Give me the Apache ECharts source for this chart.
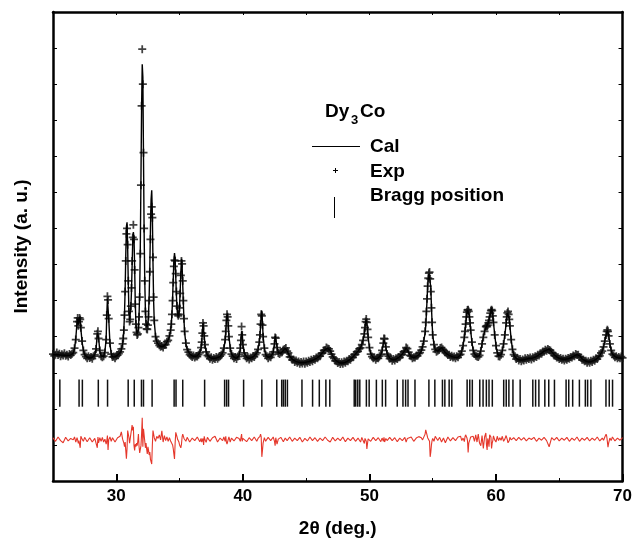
<!DOCTYPE html>
<html><head><meta charset="utf-8">
<script src="https://cdn.jsdelivr.net/npm/echarts@6/dist/echarts.min.js"></script>
<style>html,body{margin:0;padding:0;background:#fff}#c{width:635px;height:543px}</style>
</head><body><div id="c"></div>
<script>
// Experimental scan: 2θ positions (deg.)
const expTheta = [
 25.0,25.1,25.2,25.3,25.4,25.5,25.6,25.7,25.8,25.9,26.0,26.1,26.2,26.3,26.4,26.5,
 26.6,26.7,26.8,26.9,26.95,27.0,27.05,27.1,27.15,27.2,27.3,27.4,27.5,
 27.6,27.7,27.8,27.9,28.0,28.1,28.2,28.3,
 28.4,28.5,28.55,28.6,28.7,28.8,28.9,29.0,29.1,29.2,29.25,29.3,29.35,29.4,29.5,29.6,29.7,
 29.8,29.9,30.0,30.1,30.2,30.3,30.4,
 30.5,30.55,30.6,30.65,30.7,30.75,30.8,30.85,30.9,30.95,31.0,31.05,31.1,31.15,31.2,31.25,31.3,31.35,31.4,31.45,31.5,31.55,31.6,31.65,31.7,31.75,31.8,31.85,31.9,31.95,32.0,32.05,32.1,32.15,32.2,32.25,32.3,32.35,32.4,32.45,32.5,32.55,32.6,32.65,32.7,32.75,32.8,32.85,32.9,32.95,33.0,
 33.1,33.2,33.3,33.4,33.5,33.6,33.7,33.8,33.9,34.0,34.1,34.2,
 34.3,34.35,34.4,34.45,34.5,34.55,34.6,34.65,34.7,34.75,34.8,34.85,34.9,34.95,35.0,35.05,35.1,35.15,35.2,35.25,35.3,35.35,35.4,
 35.5,35.6,35.7,35.8,35.9,36.0,36.1,36.2,36.3,36.4,36.5,36.6,
 36.7,36.75,36.8,36.85,36.9,36.95,37.0,37.1,37.2,
 37.3,37.4,37.5,37.6,37.7,37.8,37.9,38.0,38.1,38.2,38.3,38.4,
 38.5,38.6,38.65,38.7,38.75,38.8,38.85,38.9,39.0,39.1,
 39.2,39.3,39.4,39.5,39.6,39.7,
 39.8,39.85,39.9,39.95,40.0,40.1,
 40.2,40.3,40.4,40.5,40.6,40.7,40.8,40.9,41.0,41.1,
 41.2,41.3,41.35,41.4,41.45,41.5,41.55,41.6,41.7,41.8,
 41.9,42.0,42.1,42.2,42.3,42.4,
 42.5,42.55,42.6,42.7,42.8,
 42.9,43.0,43.1,43.2,43.3,43.4,43.5,43.6,43.7,43.8,43.9,44.0,44.1,44.2,44.3,44.4,44.5,44.6,44.7,44.8,44.9,45.0,45.1,45.2,45.3,45.4,45.5,45.6,45.7,45.8,45.9,46.0,46.1,46.2,46.3,46.4,46.5,46.6,46.7,46.8,46.9,47.0,47.1,47.2,47.3,47.4,47.5,47.6,47.7,47.8,47.9,48.0,48.1,48.2,48.3,48.4,48.5,48.6,48.7,48.8,48.9,49.0,49.1,49.2,49.3,
 49.4,49.5,49.6,49.65,49.7,49.75,49.8,49.85,49.9,50.0,50.1,
 50.2,50.3,50.4,50.5,50.6,50.7,50.8,50.9,
 51.0,51.1,51.15,51.2,51.3,51.4,
 51.5,51.6,51.7,51.8,51.9,52.0,52.1,52.2,52.3,52.4,52.5,52.6,52.7,52.8,52.9,53.0,53.1,53.2,53.3,53.4,53.5,53.6,53.7,53.8,53.9,54.0,54.1,54.2,54.3,
 54.4,54.45,54.5,54.55,54.6,54.65,54.7,54.75,54.8,54.85,54.9,54.95,
 55.0,55.1,55.2,55.3,55.4,55.5,55.6,55.7,55.8,55.9,56.0,56.1,56.2,56.3,56.4,56.5,56.6,56.7,56.8,56.9,57.0,57.1,57.2,57.3,57.4,57.5,
 57.55,57.6,57.65,57.7,57.75,57.8,57.85,57.9,57.95,58.0,
 58.1,58.2,58.3,58.4,58.5,58.6,58.7,58.8,58.9,59.0,59.1,
 59.2,59.25,59.3,59.35,59.4,59.45,59.5,59.55,59.6,59.65,59.7,59.75,59.8,
 59.9,60.0,60.1,60.2,60.3,60.4,60.5,60.6,60.7,60.8,
 60.85,60.9,60.95,61.0,61.05,61.1,
 61.2,61.3,61.4,61.5,61.6,61.7,61.8,61.9,62.0,62.1,62.2,62.3,62.4,62.5,62.6,62.7,62.8,62.9,63.0,63.1,63.2,63.3,63.4,63.5,63.6,63.7,63.8,63.9,64.0,64.1,64.2,64.3,64.4,64.5,64.6,64.7,64.8,64.9,65.0,65.1,65.2,65.3,65.4,65.5,65.6,65.7,65.8,65.9,66.0,66.1,66.2,66.3,66.4,66.5,66.6,66.7,66.8,66.9,67.0,67.1,67.2,67.3,67.4,67.5,67.6,67.7,67.8,67.9,68.0,68.1,68.2,68.3,68.4,68.5,68.6,68.7,
 68.75,68.8,68.85,68.9,69.0,69.1,69.2,69.3,69.4,69.5,69.6,69.7,69.8,69.9,70.0
];
// Experimental intensity (a. u., axis units)
const expI = [
 3.52,3.47,3.50,3.56,3.49,3.53,3.46,3.51,3.48,3.54,3.47,3.50,3.45,3.52,3.49,3.53,
 3.56,3.68,3.92,4.42,4.52,4.30,4.42,4.52,4.48,4.25,3.88,3.62,3.50,
 3.45,3.40,3.46,3.41,3.44,3.39,3.46,3.50,
 3.66,4.08,4.15,3.95,3.62,3.46,3.43,3.46,3.56,3.92,4.60,5.12,5.02,4.50,3.82,3.52,3.44,
 3.45,3.40,3.46,3.49,3.53,3.58,3.66,
 3.80,3.95,4.18,4.60,5.25,6.10,6.85,7.00,6.55,5.55,4.70,4.42,4.48,4.85,5.35,6.10,6.75,7.10,6.70,5.85,4.90,4.35,4.12,4.05,4.08,4.25,4.55,5.10,6.30,8.20,10.40,11.97,11.00,9.10,7.00,5.55,4.70,4.35,4.22,4.20,4.32,4.55,5.00,5.80,6.70,7.40,7.60,7.30,6.20,5.10,4.45,
 4.00,3.88,3.82,3.76,3.72,3.74,3.70,3.77,3.78,3.86,3.90,4.02,
 4.18,4.35,4.62,5.00,5.50,5.95,6.12,6.10,5.75,5.25,4.85,4.62,4.58,4.62,4.80,5.20,5.70,6.10,6.02,5.55,5.00,4.50,4.15,
 3.82,3.64,3.57,3.50,3.47,3.44,3.48,3.42,3.46,3.45,3.50,3.55,
 3.70,3.85,4.10,4.38,4.30,4.02,3.78,3.58,3.48,
 3.45,3.39,3.43,3.36,3.41,3.38,3.44,3.39,3.43,3.46,3.50,3.55,
 3.68,3.92,4.15,4.45,4.62,4.55,4.30,4.00,3.68,3.52,
 3.46,3.40,3.44,3.38,3.45,3.50,
 3.68,3.90,4.28,4.05,3.78,3.55,
 3.46,3.40,3.43,3.37,3.42,3.40,3.46,3.44,3.50,3.55,
 3.65,3.85,4.05,4.35,4.62,4.58,4.32,4.00,3.68,3.50,
 3.46,3.40,3.45,3.43,3.50,3.58,
 3.80,3.98,3.96,3.70,3.55,
 3.52,3.56,3.57,3.64,3.66,3.69,3.60,3.55,3.44,3.43,3.36,3.37,3.30,3.34,3.28,3.31,3.25,3.30,3.26,3.31,3.25,3.31,3.28,3.33,3.30,3.36,3.32,3.38,3.36,3.42,3.40,3.46,3.46,3.53,3.55,3.62,3.63,3.70,3.67,3.66,3.60,3.52,3.44,3.40,3.33,3.32,3.27,3.30,3.24,3.29,3.25,3.31,3.28,3.33,3.32,3.38,3.36,3.43,3.43,3.50,3.51,3.58,3.59,3.66,3.69,
 3.78,3.90,4.08,4.25,4.42,4.49,4.40,4.20,3.98,3.70,3.52,
 3.45,3.40,3.42,3.36,3.41,3.40,3.46,3.50,
 3.62,3.82,3.95,3.94,3.72,3.52,
 3.46,3.39,3.40,3.33,3.38,3.34,3.40,3.38,3.44,3.43,3.50,3.50,3.58,3.61,3.70,3.67,3.57,3.48,3.46,3.40,3.43,3.42,3.47,3.47,3.53,3.56,3.63,3.72,3.88,
 4.15,4.40,4.70,5.05,5.40,5.62,5.76,5.79,5.60,5.25,4.80,4.40,
 4.05,3.78,3.65,3.58,3.61,3.63,3.69,3.70,3.65,3.61,3.56,3.54,3.49,3.50,3.44,3.47,3.42,3.45,3.40,3.46,3.43,3.49,3.51,3.60,3.75,3.98,
 4.15,4.35,4.55,4.68,4.74,4.75,4.70,4.55,4.38,4.18,
 3.85,3.62,3.52,3.47,3.45,3.44,3.48,3.60,3.80,3.98,4.15,
 4.28,4.30,4.28,4.32,4.38,4.45,4.55,4.65,4.72,4.75,4.72,4.58,4.40,
 4.05,3.75,3.55,3.46,3.45,3.50,3.62,3.80,4.05,4.38,
 4.55,4.66,4.70,4.62,4.48,4.30,
 3.92,3.65,3.50,3.46,3.38,3.41,3.34,3.38,3.32,3.37,3.34,3.40,3.36,3.41,3.38,3.42,3.37,3.43,3.40,3.46,3.44,3.50,3.48,3.54,3.53,3.59,3.58,3.64,3.61,3.66,3.63,3.62,3.56,3.54,3.48,3.47,3.42,3.43,3.38,3.41,3.36,3.39,3.34,3.39,3.36,3.41,3.39,3.44,3.42,3.48,3.46,3.52,3.49,3.50,3.44,3.42,3.36,3.37,3.32,3.33,3.28,3.32,3.28,3.33,3.30,3.36,3.33,3.40,3.38,3.45,3.47,3.55,3.60,3.72,3.88,4.05,
 4.15,4.19,4.15,4.02,3.80,3.62,3.52,3.48,3.43,3.46,3.40,3.44,3.40,3.45,3.41
];
// Refinement grid: 2θ positions (deg.) for calculated and difference curves
const twoTheta = [
 25.0,25.2,25.4,25.6,25.8,26.0,26.2,26.4,
 26.6,26.7,26.8,26.9,26.95,27.0,27.05,27.1,27.15,27.2,27.3,27.4,27.5,
 27.7,27.9,28.1,28.3,
 28.4,28.5,28.55,28.6,28.7,28.8,28.9,29.0,29.1,29.2,29.25,29.3,29.35,29.4,29.5,29.6,29.7,
 29.9,30.1,30.3,30.4,
 30.5,30.55,30.6,30.65,30.7,30.75,30.8,30.85,30.9,30.95,31.0,31.05,31.1,31.15,31.2,31.25,31.3,31.35,31.4,31.45,31.5,31.55,31.6,31.65,31.7,31.75,31.8,31.85,31.9,31.95,32.0,32.05,32.1,32.15,32.2,32.25,32.3,32.35,32.4,32.45,32.5,32.55,32.6,32.65,32.7,32.75,32.8,32.85,32.9,32.95,33.0,
 33.1,33.2,33.3,33.4,33.5,33.6,33.7,33.8,33.9,34.0,34.1,34.2,
 34.3,34.35,34.4,34.45,34.5,34.55,34.6,34.65,34.7,34.75,34.8,34.85,34.9,34.95,35.0,35.05,35.1,35.15,35.2,35.25,35.3,35.35,35.4,
 35.5,35.6,35.8,36.0,36.2,36.4,36.6,
 36.7,36.75,36.8,36.85,36.9,36.95,37.0,37.1,37.2,
 37.4,37.6,37.8,38.0,38.2,38.4,
 38.5,38.6,38.65,38.7,38.75,38.8,38.85,38.9,39.0,39.1,
 39.3,39.5,39.7,
 39.8,39.85,39.9,39.95,40.0,40.1,
 40.3,40.5,40.7,40.9,41.1,
 41.2,41.3,41.35,41.4,41.45,41.5,41.55,41.6,41.7,41.8,
 42.0,42.2,42.4,
 42.5,42.55,42.6,42.7,42.8,
 43.0,43.2,43.35,43.5,43.7,43.9,44.1,44.3,44.5,44.7,44.9,45.1,45.3,45.5,45.7,45.9,46.1,46.3,46.5,46.7,46.9,47.1,47.3,47.5,47.7,47.9,48.1,48.3,48.5,48.7,48.9,49.1,49.3,
 49.4,49.5,49.6,49.65,49.7,49.75,49.8,49.85,49.9,50.0,50.1,
 50.3,50.5,50.7,50.9,
 51.0,51.1,51.15,51.2,51.3,51.4,
 51.6,51.8,52.0,52.2,52.4,52.6,52.8,52.9,53.0,53.1,53.3,53.5,53.7,53.9,54.1,54.2,54.3,
 54.4,54.45,54.5,54.55,54.6,54.65,54.7,54.75,54.8,54.85,54.9,54.95,
 55.0,55.1,55.2,55.4,55.55,55.7,55.85,56.0,56.2,56.4,56.6,56.8,57.0,57.2,57.3,57.4,57.5,
 57.55,57.6,57.65,57.7,57.75,57.8,57.85,57.9,57.95,58.0,
 58.1,58.2,58.3,58.4,58.5,58.6,58.7,58.8,58.9,59.0,59.1,
 59.2,59.25,59.3,59.35,59.4,59.45,59.5,59.55,59.6,59.65,59.7,59.75,59.8,
 59.9,60.0,60.1,60.2,60.3,60.4,60.5,60.6,60.7,60.8,
 60.85,60.9,60.95,61.0,61.05,61.1,
 61.2,61.3,61.4,61.6,61.8,62.0,62.2,62.4,62.6,62.8,63.0,63.2,63.4,63.6,63.8,64.0,64.2,64.4,64.6,64.8,65.0,65.2,65.4,65.6,65.8,66.0,66.2,66.4,66.6,66.8,67.0,67.2,67.4,67.6,67.8,68.0,68.2,68.4,68.5,68.6,68.7,
 68.75,68.8,68.85,68.9,69.0,69.1,69.2,69.4,69.6,69.8,70.0
];
// Calculated profile
const calI = [
 3.50,3.50,3.50,3.49,3.49,3.48,3.48,3.49,
 3.55,3.66,3.95,4.40,4.50,4.34,4.45,4.55,4.48,4.22,3.85,3.62,3.50,
 3.43,3.41,3.43,3.50,
 3.64,4.10,4.12,3.98,3.60,3.47,3.43,3.45,3.58,3.95,4.62,5.05,5.08,4.52,3.80,3.53,3.44,
 3.44,3.49,3.56,3.62,
 3.80,3.96,4.22,4.65,5.30,6.25,7.05,7.17,6.45,5.45,4.68,4.45,4.50,4.80,5.25,5.95,6.65,6.90,6.75,5.95,4.95,4.40,4.15,4.08,4.10,4.20,4.60,5.25,6.55,8.40,10.35,11.55,11.20,9.00,6.90,5.55,4.75,4.40,4.28,4.25,4.35,4.62,5.15,5.95,7.00,7.80,8.06,7.40,6.05,5.00,4.42,
 4.02,3.86,3.80,3.76,3.73,3.72,3.73,3.75,3.79,3.84,3.91,4.00,
 4.20,4.38,4.65,5.05,5.60,6.10,6.32,6.15,5.65,5.15,4.80,4.62,4.56,4.62,4.85,5.28,5.78,6.16,5.98,5.45,4.92,4.45,4.12,
 3.80,3.65,3.52,3.47,3.45,3.47,3.56,
 3.68,3.84,4.12,4.38,4.34,4.00,3.78,3.58,3.49,
 3.42,3.40,3.40,3.42,3.45,3.55,
 3.66,3.90,4.12,4.42,4.64,4.58,4.30,4.00,3.70,3.52,
 3.43,3.40,3.48,
 3.66,3.92,4.15,4.08,3.80,3.55,
 3.43,3.40,3.42,3.47,3.55,
 3.64,3.85,4.02,4.30,4.60,4.72,4.40,4.02,3.68,3.50,
 3.43,3.45,3.56,
 3.80,4.02,3.95,3.72,3.55,
 3.54,3.62,3.68,3.60,3.46,3.38,3.33,3.30,3.28,3.28,3.28,3.30,3.32,3.34,3.38,3.42,3.48,3.56,3.64,3.68,3.62,3.46,3.36,3.30,3.27,3.27,3.29,3.33,3.38,3.44,3.52,3.60,3.70,
 3.78,3.90,4.10,4.25,4.40,4.48,4.45,4.22,3.98,3.70,3.53,
 3.42,3.38,3.41,3.50,
 3.60,3.82,3.92,3.95,3.72,3.52,
 3.41,3.36,3.36,3.40,3.45,3.52,3.62,3.70,3.68,3.56,3.45,3.42,3.45,3.50,3.60,3.72,3.90,
 4.10,4.30,4.62,5.00,5.38,5.62,5.75,5.80,5.78,5.38,4.85,4.40,
 4.05,3.78,3.64,3.60,3.65,3.70,3.63,3.56,3.50,3.47,3.44,3.42,3.43,3.50,3.60,3.75,3.98,
 4.12,4.30,4.50,4.65,4.74,4.76,4.72,4.58,4.40,4.18,
 3.84,3.62,3.52,3.47,3.45,3.45,3.48,3.62,3.80,4.00,4.15,
 4.25,4.30,4.32,4.34,4.40,4.48,4.55,4.62,4.70,4.80,4.75,4.60,4.40,
 4.05,3.76,3.56,3.47,3.46,3.50,3.60,3.80,4.05,4.35,
 4.52,4.65,4.70,4.65,4.50,4.30,
 3.92,3.66,3.50,3.40,3.36,3.35,3.36,3.38,3.40,3.40,3.42,3.45,3.50,3.54,3.60,3.63,3.66,3.58,3.50,3.44,3.40,3.38,3.37,3.38,3.40,3.43,3.47,3.50,3.47,3.39,3.34,3.31,3.30,3.32,3.35,3.40,3.48,3.60,3.72,3.88,4.05,
 4.12,4.18,4.18,4.05,3.80,3.62,3.52,3.45,3.42,3.41,3.40
];
// Difference curve (plotted with its offset)
const diffI = [
 1.20,1.10,1.22,1.12,1.06,1.21,1.11,1.18,
 1.14,1.22,1.08,1.20,1.13,1.04,1.12,1.02,0.92,1.24,1.16,1.10,1.21,
 1.09,1.20,1.08,1.18,
 1.14,0.92,1.22,1.06,1.20,1.10,1.21,1.08,1.16,1.02,1.12,1.26,0.86,1.14,1.22,1.10,1.20,
 1.08,1.20,1.24,1.36,
 1.16,1.12,1.05,0.95,1.08,0.85,0.62,0.90,1.40,1.35,1.20,1.05,1.10,1.30,1.42,1.55,1.40,1.50,0.98,0.85,1.02,0.95,1.05,0.98,1.10,1.30,0.95,0.78,0.80,0.98,1.30,1.75,0.95,1.45,1.40,1.10,0.92,1.05,0.88,0.75,0.95,0.85,0.72,0.80,0.60,0.55,0.47,1.00,1.40,1.30,1.20,
 1.10,1.24,1.18,1.28,1.14,1.39,1.08,1.26,1.12,1.22,1.10,1.20,
 1.10,1.05,1.08,1.00,0.90,0.75,0.61,1.05,1.35,1.30,1.22,1.15,1.20,1.08,1.00,0.95,0.92,1.02,1.22,1.30,1.25,1.18,1.20,
 1.10,1.21,1.08,1.19,1.12,1.22,1.09,
 1.18,1.08,1.06,1.18,1.00,1.24,1.15,1.07,1.21,
 1.10,1.20,1.24,1.08,1.19,1.12,
 1.22,1.10,1.24,1.08,1.02,0.98,1.16,1.22,1.08,1.19,
 1.11,1.21,1.18,
 1.10,1.06,1.30,1.10,1.18,1.21,
 1.09,1.20,1.12,1.22,1.10,
 1.18,1.14,1.24,1.30,1.22,0.67,0.85,1.05,1.20,1.10,
 1.21,1.12,1.22,
 1.10,0.98,1.20,1.02,1.16,
 1.21,1.09,1.19,1.12,1.22,1.10,1.19,1.12,1.21,1.08,1.18,1.11,1.22,1.12,1.20,1.10,1.19,1.12,1.22,1.13,1.08,1.21,1.11,1.19,1.12,1.22,1.09,1.19,1.12,1.21,1.10,1.19,1.08,
 1.21,1.12,1.04,1.18,1.22,1.10,0.89,1.04,1.17,1.20,1.10,
 1.21,1.12,1.20,1.09,
 1.19,1.10,1.21,1.08,1.18,1.12,
 1.21,1.12,1.20,1.09,1.19,1.12,1.21,1.08,1.18,1.13,1.22,1.10,1.19,1.23,1.20,1.14,1.10,
 1.30,1.42,1.35,1.28,1.20,1.15,1.18,1.10,0.67,0.80,1.00,1.12,
 1.18,1.10,1.24,1.12,1.21,1.08,1.19,1.06,1.22,1.11,1.20,1.12,1.22,1.24,1.12,1.19,1.09,
 1.22,1.28,1.24,1.20,1.12,0.79,1.05,1.10,1.16,1.22,
 1.18,1.24,1.10,1.28,1.08,1.30,1.05,0.98,1.26,0.90,1.22,
 1.33,1.00,0.86,1.18,1.10,0.95,1.28,1.30,1.22,0.90,1.05,1.12,1.25,
 1.14,1.08,1.24,1.12,1.20,1.13,1.24,1.10,1.16,1.26,
 1.22,1.14,1.06,1.02,1.12,1.21,
 1.14,1.10,1.20,1.12,1.21,1.13,1.20,1.11,1.19,1.15,1.21,1.10,1.19,1.13,1.21,1.12,0.95,1.20,1.13,1.21,1.11,1.19,1.13,1.21,1.10,1.19,1.13,1.22,1.10,1.19,1.13,1.21,1.11,1.19,1.13,1.22,1.11,1.19,1.13,1.22,1.30,
 1.24,1.10,0.94,1.05,1.19,1.12,1.22,1.11,1.19,1.13,1.20
];
// Bragg reflection positions (2θ)
const braggPos = [25.54,27.06,27.32,28.58,29.31,30.94,31.42,31.99,32.15,32.83,34.57,34.72,35.25,36.98,38.56,38.72,38.87,40.06,
 41.5,42.68,43.07,43.2,43.35,43.52,44.67,45.51,46.04,46.56,46.87,48.8,48.92,49.08,49.24,49.76,49.98,50.55,51.02,51.28,52.2,52.65,52.86,53.05,53.6,54.7,
 55.17,55.77,55.96,56.3,56.51,57.72,57.93,58.13,58.72,58.98,59.24,59.45,59.71,60.61,60.81,61.02,61.34,61.91,62.91,63.13,63.39,63.86,64.17,64.62,65.54,65.75,66.06,66.59,67.06,67.24,67.5,68.69,68.95,69.21];
const braggLow = 2.06, braggHigh = 2.81;
const xMajorTicks = [30,40,50,60,70];
const xMinorTicks = [35,45,55,65];
const xTopTicks = [30,35,40,45,50,55,60,65];

const FONT = '"Liberation Sans", Arial, sans-serif';
const chart = echarts.init(document.getElementById('c'));
const plusPath = 'path://M3.9,0H6.1V3.9H10V6.1H6.1V10H3.9V6.1H0V3.9H3.9Z';
const axisCommon = {type:'value', min:25, max:70, splitLine:{show:false}};
chart.setOption({
  animation:false,
  backgroundColor:'#fff',
  grid:{left:53, right:11, top:12, bottom:62},
  xAxis:[
    Object.assign({}, axisCommon, {position:'bottom',
      axisLine:{show:true, onZero:false, lineStyle:{color:'#000', width:2.5}},
      axisTick:{show:true, inside:true, length:7, customValues:xMajorTicks, lineStyle:{color:'#000', width:2}},
      axisLabel:{show:true, customValues:xMajorTicks, margin:7, color:'#000', fontSize:17, fontWeight:'bold', fontFamily:FONT},
      name:'2θ (deg.)', nameLocation:'middle', nameGap:38,
      nameTextStyle:{color:'#000', fontSize:19, fontWeight:'bold', fontFamily:FONT}}),
    Object.assign({}, axisCommon, {position:'bottom',
      axisLine:{show:false}, axisLabel:{show:false},
      axisTick:{show:true, inside:true, length:3, customValues:xMinorTicks, lineStyle:{color:'#000', width:1}}}),
    Object.assign({}, axisCommon, {position:'top',
      axisLine:{show:true, onZero:false, lineStyle:{color:'#000', width:2.5}}, axisLabel:{show:false},
      axisTick:{show:true, inside:true, length:3, customValues:xTopTicks, lineStyle:{color:'#000', width:1}}})
  ],
  yAxis:[
    {type:'value', min:0, max:13, interval:1, position:'left', splitLine:{show:false},
      axisLine:{show:true, onZero:false, lineStyle:{color:'#000', width:2.5}},
      axisTick:{show:true, inside:true, length:4, lineStyle:{color:'#000', width:1}},
      axisLabel:{show:false},
      name:'Intensity (a. u.)', nameLocation:'middle', nameGap:22, nameRotate:90,
      nameTextStyle:{color:'#000', fontSize:19, fontWeight:'bold', fontFamily:FONT}},
    {type:'value', min:0, max:13, interval:1, position:'right', splitLine:{show:false},
      axisLine:{show:true, onZero:false, lineStyle:{color:'#000', width:2.5}},
      axisTick:{show:true, inside:true, length:4, lineStyle:{color:'#000', width:1}},
      axisLabel:{show:false}}
  ],
  series:[
    {name:'Exp', type:'scatter', xAxisIndex:0, yAxisIndex:0, silent:true,
      symbol:plusPath, symbolSize:8, itemStyle:{color:'#111'},
      data: expTheta.map((x,i)=>[x, expI[i]]), z:2},
    {name:'Cal', type:'line', xAxisIndex:0, yAxisIndex:0, silent:true, showSymbol:false,
      lineStyle:{color:'#000', width:1.4}, data: twoTheta.map((x,i)=>[x, calI[i]]), z:3},
    {name:'Diff', type:'line', xAxisIndex:0, yAxisIndex:0, silent:true, showSymbol:false,
      lineStyle:{color:'#e5372b', width:1.1}, data: twoTheta.map((x,i)=>[x, diffI[i]]), z:3},
    {name:'Bragg position', type:'custom', xAxisIndex:0, yAxisIndex:0, silent:true,
      data: braggPos.map(v=>[v, braggLow]),
      encode:{x:0, y:1},
      renderItem:function(params, api){
        const x = api.value(0);
        const p1 = api.coord([x, braggLow]);
        const p2 = api.coord([x, braggHigh]);
        return {type:'line', shape:{x1:p1[0], y1:p1[1], x2:p2[0], y2:p2[1]},
          style:{stroke:'#111', lineWidth:1.5}};
      }, z:3}
  ],
  graphic:[
    {type:'text', x:325, y:112, style:{text:'Dy', font:'bold 19px '+FONT, fill:'#000', verticalAlign:'middle'}},
    {type:'text', x:351, y:120, style:{text:'3', font:'bold 13px '+FONT, fill:'#000', verticalAlign:'middle'}},
    {type:'text', x:360, y:112, style:{text:'Co', font:'bold 19px '+FONT, fill:'#000', verticalAlign:'middle'}},
    {type:'line', shape:{x1:312, y1:146.5, x2:360, y2:146.5}, style:{stroke:'#000', lineWidth:1}},
    {type:'text', x:370, y:147, style:{text:'Cal', font:'bold 19px '+FONT, fill:'#000', verticalAlign:'middle'}},
    {type:'line', shape:{x1:333, y1:170.5, x2:338, y2:170.5}, style:{stroke:'#000', lineWidth:1}},
    {type:'line', shape:{x1:335.5, y1:168, x2:335.5, y2:173}, style:{stroke:'#000', lineWidth:1}},
    {type:'text', x:370, y:172, style:{text:'Exp', font:'bold 19px '+FONT, fill:'#000', verticalAlign:'middle'}},
    {type:'line', shape:{x1:334.5, y1:197, x2:334.5, y2:218}, style:{stroke:'#000', lineWidth:1}},
    {type:'text', x:370, y:196, style:{text:'Bragg position', font:'bold 19px '+FONT, fill:'#000', verticalAlign:'middle'}}
  ]
});
</script></body></html>
